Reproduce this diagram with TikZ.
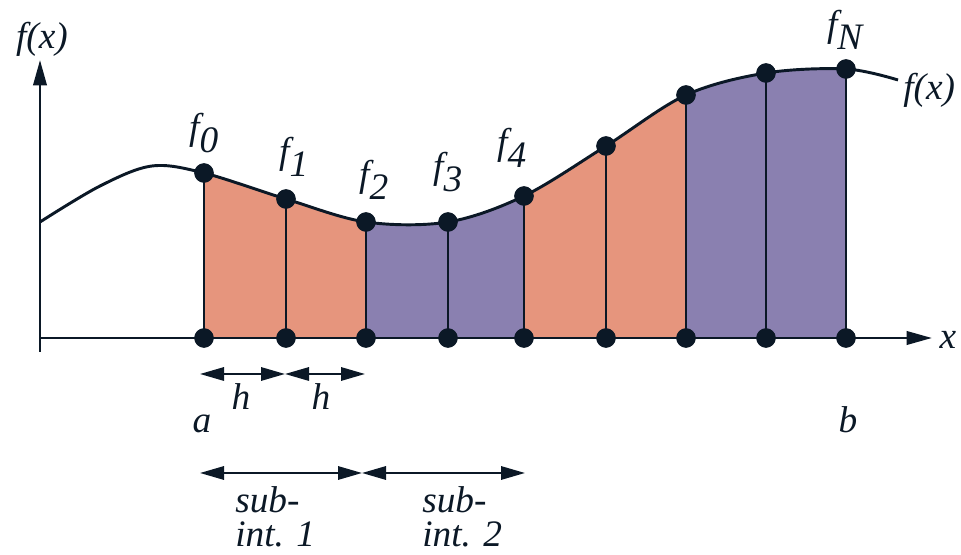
\documentclass[tikz,border=0pt]{standalone}
\usepackage{fontspec}
\setmainfont{Liberation Serif}
\usetikzlibrary{arrows.meta}
\definecolor{ink}{HTML}{0B1826}
\definecolor{salmon}{HTML}{E6957D}
\definecolor{lav}{HTML}{8A80B0}
\begin{document}
\begin{tikzpicture}[x=0.75pt,y=-0.75pt,
  dot/.style={circle,fill=ink,inner sep=0pt,minimum size=14.5pt},
  lbl/.style={font=\itshape\fontsize{28}{26}\selectfont,text=ink,inner sep=0pt},
  curve/.style={draw=ink,line width=2.2pt},
  axis/.style={draw=ink,line width=2pt,-{Triangle[length=19pt,width=10pt]}},
  dim/.style={draw=ink,line width=1.6pt,{Triangle[length=18pt,width=10pt]}-{Triangle[length=18pt,width=10pt]}}]
\useasboundingbox (0,0) rectangle (961,555);
% fills
\foreach \xa/\xb/\col in {204/366/salmon,366/524/lav,524/686/salmon,686/846/lav}{
  \begin{scope}
    \clip (\xa,0) rectangle (\xb,338);
    \fill[\col] plot[smooth,tension=0.55] coordinates {(40,222) (100,186) (152,166) (204,173) (286,199) (366,222) (448,222) (524,196) (606,146) (686,95) (766,73) (846,69) (898,80)} -- (898,338) -- (40,338) -- cycle;
  \end{scope}
}
\draw[curve] plot[smooth,tension=0.55] coordinates {(40,222) (100,186) (152,166) (204,173) (286,199) (366,222) (448,222) (524,196) (606,146) (686,95) (766,73) (846,69) (898,80)};
% axes
\coordinate (ybot) at (40,352);
\coordinate (ytop) at (40,60);
\coordinate (xl) at (40,338);
\coordinate (xr) at (932,338);
\draw[axis] (ybot) -- (ytop);
\draw[axis] (xl) -- (xr);
% points
\foreach \i/\x/\y in {0/204/173,1/286/199,2/366/222,3/448/222,4/524/196,5/606/146,6/686/95,7/766/73,8/846/69}{
  \node[dot] (p\i) at (\x,\y) {};
  \node[dot] (q\i) at (\x,338) {};
  \draw[ink,line width=2pt] (p\i.center) -- (q\i.center);
  \node[dot] at (p\i) {};
  \node[dot] at (q\i) {};
}
% labels
\node[lbl] (fy) at (42,39) {f(x)};
\node[lbl] (fx) at (948,340) {x};
\node[lbl,anchor=west] (fr) at (903,90) {f(x)};
\node[lbl] (l0) at (204,133) {f$_{\textit{0}}$};
\node[lbl] (l1) at (294,157) {f$_{\textit{1}}$};
\node[lbl] (l2) at (374,180) {f$_{\textit{2}}$};
\node[lbl] (l3) at (448,172) {f$_{\textit{3}}$};
\node[lbl] (l4) at (512,148) {f$_{\textit{4}}$};
\node[lbl] (lN) at (845,30) {f$_{\textit{N}}$};
% h arrows
\coordinate (h0) at (200,374);
\coordinate (h1) at (285,374);
\coordinate (h2) at (365,374);
\draw[dim] (h0) -- (h1);
\draw[dim] (h1) -- (h2);
\node[lbl,anchor=base] (hl1) at (241,410) {h};
\node[lbl,anchor=base] (hl2) at (321,410) {h};
\node[lbl,anchor=base] (la) at (202,433) {a};
\node[lbl,anchor=base] (lb) at (848,433) {b};
% sub-interval arrows
\coordinate (s0) at (200,473);
\coordinate (s1) at (362,473);
\coordinate (s2) at (525,473);
\draw[dim] (s0) -- (s1);
\draw[dim] (s1) -- (s2);
\node[lbl,anchor=base west] (sa1) at (235,513) {sub-};
\node[lbl,anchor=base west] (sa2) at (235,547) {int. 1};
\node[lbl,anchor=base west] (sb1) at (422,513) {sub-};
\node[lbl,anchor=base west] (sb2) at (422,547) {int. 2};
\end{tikzpicture}
\end{document}
